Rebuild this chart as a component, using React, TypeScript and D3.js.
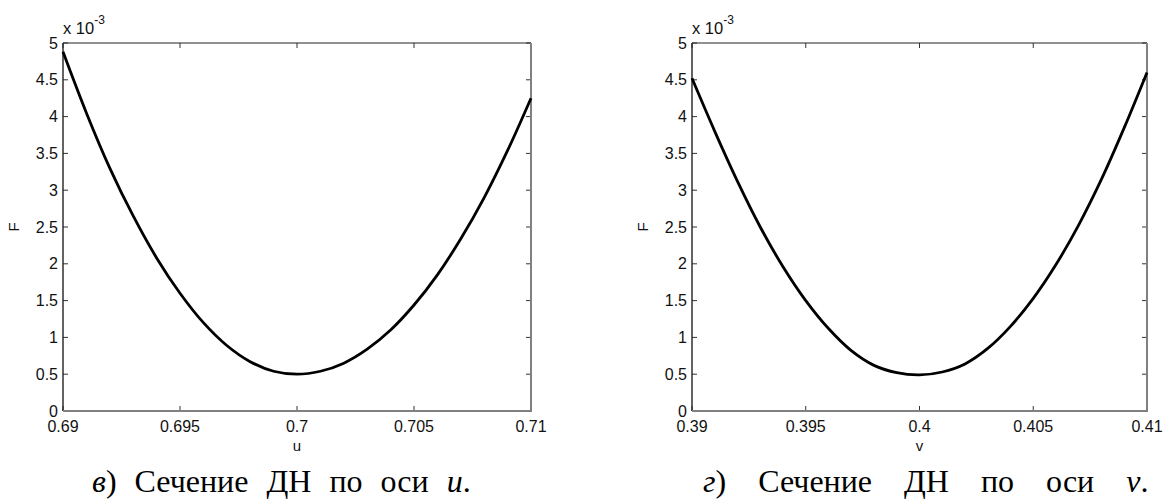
import React from "react";
import * as d3 from "d3";

// Left panel: section along u
const uValues = [0.69, 0.691, 0.692, 0.693, 0.694, 0.695, 0.696, 0.697, 0.698, 0.699, 0.7, 0.701, 0.702, 0.703, 0.704, 0.705, 0.706, 0.707, 0.708, 0.709, 0.71];
const uF = [4.88, 4.05, 3.3, 2.65, 2.08, 1.6, 1.2, 0.89, 0.67, 0.54, 0.5, 0.54, 0.65, 0.84, 1.1, 1.44, 1.85, 2.34, 2.9, 3.54, 4.25];

// Right panel: section along v
const vValues = [0.39, 0.391, 0.392, 0.393, 0.394, 0.395, 0.396, 0.397, 0.398, 0.399, 0.4, 0.401, 0.402, 0.403, 0.404, 0.405, 0.406, 0.407, 0.408, 0.409, 0.41];
const vF = [4.52, 3.8, 3.12, 2.5, 1.96, 1.5, 1.12, 0.82, 0.62, 0.52, 0.49, 0.53, 0.64, 0.85, 1.15, 1.53, 1.99, 2.53, 3.15, 3.85, 4.6];

const uTicks = [0.69, 0.695, 0.7, 0.705, 0.71];
const uTickLabels = ["0.69", "0.695", "0.7", "0.705", "0.71"];
const vTicks = [0.39, 0.395, 0.4, 0.405, 0.41];
const vTickLabels = ["0.39", "0.395", "0.4", "0.405", "0.41"];
const fTicks = [0, 0.5, 1, 1.5, 2, 2.5, 3, 3.5, 4, 4.5, 5];
const fTickLabels = ["0", "0.5", "1", "1.5", "2", "2.5", "3", "3.5", "4", "4.5", "5"];

type PanelProps = {
  x0: number;
  x1: number;
  xs: number[];
  ys: number[];
  xDomain: [number, number];
  xTicks: number[];
  xTickLabels: string[];
  xLabel: string;
  captionLetter: string;
  captionVar: string;
  captionX: number;
  wordSpacing: number;
};

const TOP = 43;
const BOTTOM = 411;
const AXIS_FONT = "'Liberation Sans', Arial, sans-serif";
const SERIF = "'Liberation Serif', 'Times New Roman', serif";

function Panel(p: PanelProps) {
  const x = d3.scaleLinear().domain(p.xDomain).range([p.x0, p.x1]);
  const y = d3.scaleLinear().domain([0, 5]).range([BOTTOM, TOP]);
  const pts: [number, number][] = p.xs.map((v, i) => [v, p.ys[i]]);
  const line = d3
    .line<[number, number]>()
    .x((d) => x(d[0]))
    .y((d) => y(d[1]))
    .curve(d3.curveCatmullRom.alpha(0.5));
  const tl = 5;
  const midY = (TOP + BOTTOM) / 2;
  const midX = (p.x0 + p.x1) / 2;
  return (
    <g>
      <rect x={p.x0} y={TOP} width={p.x1 - p.x0} height={BOTTOM - TOP} fill="#ffffff" />
      {p.xTicks.map((t, i) => (
        <g key={"xt" + i}>
          <line x1={x(t)} x2={x(t)} y1={BOTTOM} y2={BOTTOM - tl} stroke="#333" strokeWidth={1} />
          <line x1={x(t)} x2={x(t)} y1={TOP} y2={TOP + tl} stroke="#333" strokeWidth={1} />
          <text x={x(t)} y={431.5} textAnchor="middle" fontFamily={AXIS_FONT} fontSize={16} fill="#111">
            {p.xTickLabels[i]}
          </text>
        </g>
      ))}
      {fTicks.map((t, i) => (
        <g key={"yt" + i}>
          <line x1={p.x0} x2={p.x0 + tl} y1={y(t)} y2={y(t)} stroke="#333" strokeWidth={1} />
          <line x1={p.x1} x2={p.x1 - tl} y1={y(t)} y2={y(t)} stroke="#333" strokeWidth={1} />
          <text x={p.x0 - 5} y={y(t) + 5.5} textAnchor="end" fontFamily={AXIS_FONT} fontSize={16} fill="#111">
            {fTickLabels[i]}
          </text>
        </g>
      ))}
      <line x1={p.x0} x2={p.x1} y1={TOP} y2={TOP} stroke="#222" strokeWidth={1.2} />
      <line x1={p.x0} x2={p.x0} y1={TOP} y2={BOTTOM} stroke="#222" strokeWidth={1.4} />
      <line x1={p.x0} x2={p.x1 + 1} y1={BOTTOM} y2={BOTTOM} stroke="#808080" strokeWidth={2} />
      <line x1={p.x1} x2={p.x1} y1={TOP} y2={BOTTOM} stroke="#808080" strokeWidth={2} />
      <path d={line(pts) || ""} fill="none" stroke="#000" strokeWidth={2.8} strokeLinejoin="round" />
      <text x={p.x0} y={34} fontFamily={AXIS_FONT} fontSize={16.5} fill="#111">
        x 10
        <tspan dy={-10} fontSize={12}>-3</tspan>
      </text>
      <text
        transform={`translate(${p.x0 - 44},${midY}) rotate(-90)`}
        textAnchor="middle"
        fontFamily={AXIS_FONT}
        fontSize={15}
        fill="#111"
      >
        F
      </text>
      <text x={midX} y={451} textAnchor="middle" fontFamily={AXIS_FONT} fontSize={15} fill="#111">
        {p.xLabel}
      </text>
      <text x={p.captionX} y={492} fontFamily={SERIF} fontSize={32} fill="#000" style={{ wordSpacing: p.wordSpacing + "px" }}>
        <tspan fontStyle="italic">{p.captionLetter}</tspan>
        {") Сечение ДН по оси "}
        <tspan fontStyle="italic">{p.captionVar}</tspan>
        {"."}
      </text>
    </g>
  );
}

export default function App() {
  return (
    <svg
      width={1164}
      height={499}
      viewBox="0 0 1164 499"
      style={{ position: "absolute", left: 0, top: 0, background: "#fff" }}
    >
      <rect x={0} y={0} width={1164} height={499} fill="#fff" />
      <Panel
        x0={63}
        x1={531}
        xs={uValues}
        ys={uF}
        xDomain={[0.69, 0.71]}
        xTicks={uTicks}
        xTickLabels={uTickLabels}
        xLabel="u"
        captionLetter="в"
        captionVar="u"
        captionX={92}
        wordSpacing={10}
      />
      <Panel
        x0={692}
        x1={1147}
        xs={vValues}
        ys={vF}
        xDomain={[0.39, 0.41]}
        xTicks={vTicks}
        xTickLabels={vTickLabels}
        xLabel="v"
        captionLetter="г"
        captionVar="v"
        captionX={703}
        wordSpacing={24}
      />
    </svg>
  );
}
